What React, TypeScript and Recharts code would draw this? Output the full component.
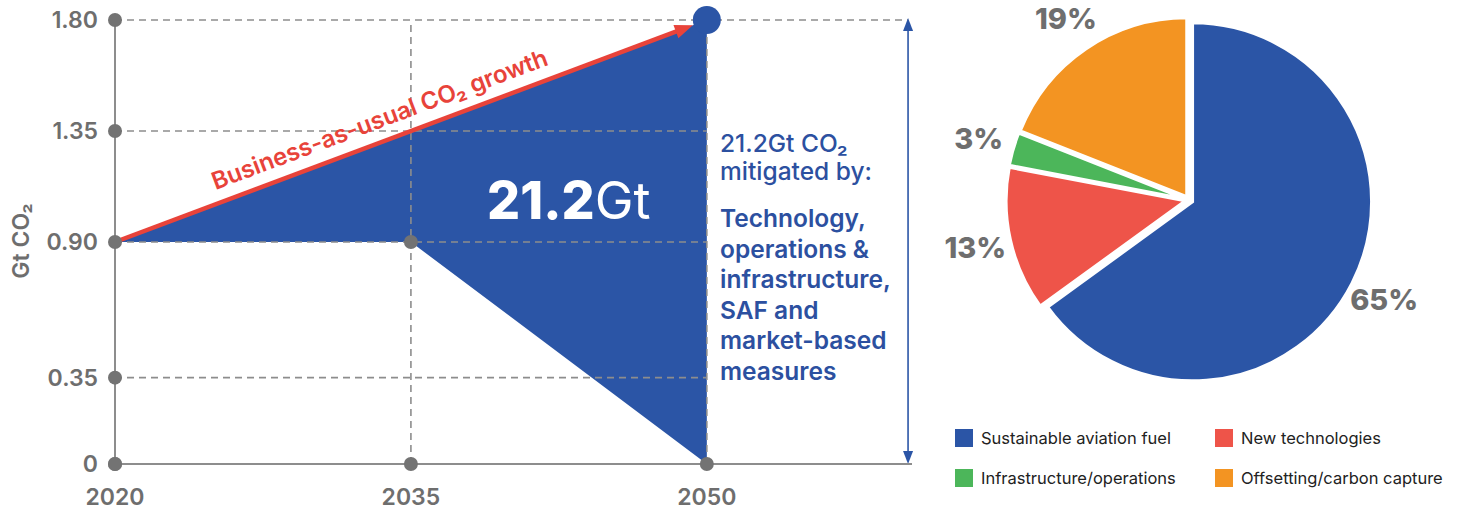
import {
  Area,
  Cell,
  ComposedChart,
  Legend,
  Pie,
  PieChart,
  ReferenceDot,
  ReferenceLine,
  Sector,
  XAxis,
  YAxis,
} from "recharts";

const years = [2020, 2035, 2050];
const businessAsUsual = [0.9, 1.35, 1.8];
const mitigatedPath = [0.9, 0.9, 0];
const yTicks = [0, 0.35, 0.9, 1.35, 1.8];
const gridValues = [0.35, 0.9, 1.35];
const axisEndYear = 2060.4;
const bracketYear = 2060.2;

const shareNames = [
  "Sustainable aviation fuel",
  "New technologies",
  "Infrastructure/operations",
  "Offsetting/carbon capture",
];
const shareValues = [65, 13, 3, 19];
const shareColors = ["#2b55a6", "#ee5449", "#4cb65a", "#f39422"];

const BLUE = "#2b55a6";
const TEXT_BLUE = "#2c50a0";
const GRID = "#8d8d8d";
const DOT = "#737373";
const LABEL = "#6e6e6e";
const RED = "#e8433a";
const FONT = "Inter, 'Noto Sans', sans-serif";

const areaData = years.map((year, i) => ({
  year,
  range: [mitigatedPath[i], businessAsUsual[i]],
}));

const shareData = shareNames.map((name, i) => ({ name, value: shareValues[i] }));

function YTick({ x, y, payload }: any) {
  const v = payload.value as number;
  return (
    <g>
      <circle cx={x} cy={y} r={7} fill={DOT} />
      <text
        x={x - 17}
        y={y}
        dy="0.36em"
        textAnchor="end"
        fontSize={23}
        fontWeight={600}
        fill={LABEL}
        fontFamily={FONT}
      >
        {v === 0 ? "0" : v.toFixed(2)}
      </text>
    </g>
  );
}

function XTick({ x, y, payload }: any) {
  return (
    <g>
      <circle cx={x} cy={y} r={7} fill={DOT} />
      <text
        x={x}
        y={y + 41}
        textAnchor="middle"
        fontSize={23}
        fontWeight={600}
        fill={LABEL}
        fontFamily={FONT}
      >
        {payload.value}
      </text>
    </g>
  );
}

// red "business as usual" arrow with its label along the line
function BauArrow({ x1, y1, x2, y2 }: any) {
  const dx = x2 - x1;
  const dy = y2 - y1;
  const len = Math.hypot(dx, dy);
  const ux = dx / len;
  const uy = dy / len;
  const tipX = x2 - ux * 15;
  const tipY = y2 - uy * 15;
  const bx = tipX - ux * 18;
  const by = tipY - uy * 18;
  const nx = uy;
  const ny = -ux;
  const angle = (Math.atan2(dy, dx) * 180) / Math.PI;
  const tx = x1 + dx * 0.46 + nx * 22;
  const ty = y1 + dy * 0.46 + ny * 22;
  return (
    <g>
      <line x1={x1} y1={y1} x2={bx + ux * 2} y2={by + uy * 2} stroke={RED} strokeWidth={4.5} />
      <polygon
        points={`${tipX},${tipY} ${bx + nx * 7},${by + ny * 7} ${bx - nx * 7},${by - ny * 7}`}
        fill={RED}
      />
      <text
        x={tx}
        y={ty}
        transform={`rotate(${angle} ${tx} ${ty})`}
        textAnchor="middle"
        dominantBaseline="central"
        fontSize={24}
        fontWeight={600}
        fill={RED}
        fontFamily={FONT}
      >
        Business-as-usual CO₂ growth
      </text>
    </g>
  );
}

function BracketArrow({ x1, y1, x2, y2 }: any) {
  const top = Math.min(y1, y2);
  const bottom = Math.max(y1, y2);
  return (
    <g>
      <line x1={x1} y1={top + 8} x2={x2} y2={bottom - 8} stroke={BLUE} strokeWidth={1.6} />
      <polygon points={`${x1},${top - 2} ${x1 - 5},${top + 11} ${x1 + 5},${top + 11}`} fill={BLUE} />
      <polygon
        points={`${x1},${bottom} ${x1 - 5},${bottom - 13} ${x1 + 5},${bottom - 13}`}
        fill={BLUE}
      />
    </g>
  );
}

function AreaLabel({ cx, cy }: any) {
  return (
    <text
      x={cx}
      y={cy}
      dy="0.36em"
      textAnchor="middle"
      fontSize={52}
      fill="#ffffff"
      fontFamily={FONT}
    >
      <tspan fontWeight={800}>21.2</tspan>
      <tspan fontWeight={400}>Gt</tspan>
    </text>
  );
}

function ExplodedSector(props: any) {
  const rad = (-props.midAngle * Math.PI) / 180;
  return (
    <Sector
      {...props}
      cx={props.cx + 4 * Math.cos(rad)}
      cy={props.cy + 4 * Math.sin(rad)}
    />
  );
}

function ShareLabel({ cx, cy, midAngle, outerRadius, value }: any) {
  const r = outerRadius + 40;
  const rad = (-midAngle * Math.PI) / 180;
  return (
    <text
      x={cx + r * Math.cos(rad)}
      y={cy + r * Math.sin(rad)}
      dy="0.36em"
      textAnchor="middle"
      fontSize={29}
      fontWeight={800}
      fill={LABEL}
      fontFamily={FONT}
    >
      {value}%
    </text>
  );
}

function ShareLegend({ payload }: any) {
  const items = [...(payload ?? [])].sort(
    (a: any, b: any) => shareNames.indexOf(a.value) - shareNames.indexOf(b.value),
  );
  return (
    <div
      style={{
        display: "grid",
        gridTemplateColumns: "260px 250px",
        rowGap: 20,
        fontFamily: FONT,
      }}
    >
      {items.map((item: any) => (
        <div
          key={item.value}
          style={{
            display: "flex",
            alignItems: "center",
            gap: 8,
            height: 20,
            fontSize: 16.5,
            color: "#222",
            whiteSpace: "nowrap",
          }}
        >
          <span style={{ width: 18, height: 18, background: item.color, display: "inline-block" }} />
          {item.value}
        </div>
      ))}
    </div>
  );
}

const dashed = { stroke: GRID, strokeWidth: 1.6, strokeDasharray: "7 5" };

export default function App() {
  return (
    <div style={{ position: "absolute", left: 0, top: 0, width: 1468, height: 513, background: "#fff", fontFamily: FONT }}>
      <div style={{ position: "absolute", left: 0, top: 0 }}>
        <ComposedChart width={940} height={513} data={areaData} margin={{ top: 20, right: 28, bottom: 0, left: 0 }}>
          <XAxis
            dataKey="year"
            type="number"
            domain={[2020, axisEndYear]}
            ticks={years}
            height={49}
            tickSize={0}
            tickMargin={0}
            tickLine={false}
            axisLine={{ stroke: GRID, strokeWidth: 2 }}
            tick={<XTick />}
            interval={0}
          />
          <YAxis
            type="number"
            domain={[0, 1.8]}
            ticks={yTicks}
            width={115}
            tickSize={0}
            tickMargin={0}
            tickLine={false}
            axisLine={{ stroke: GRID, strokeWidth: 2 }}
            tick={<YTick />}
            interval={0}
          />
          <Area
            dataKey="range"
            type="linear"
            fill={BLUE}
            fillOpacity={1}
            stroke="none"
            isAnimationActive={false}
          />
          {gridValues.map((v) => (
            <ReferenceLine
              key={v}
              segment={[
                { x: 2020, y: v },
                { x: 2050, y: v },
              ]}
              {...dashed}
            />
          ))}
          <ReferenceLine
            segment={[
              { x: 2020, y: 1.8 },
              { x: bracketYear, y: 1.8 },
            ]}
            {...dashed}
          />
          <ReferenceLine
            segment={[
              { x: 2035, y: 0 },
              { x: 2035, y: 1.8 },
            ]}
            {...dashed}
          />
          <ReferenceLine
            segment={[
              { x: 2050, y: 0 },
              { x: 2050, y: 1.8 },
            ]}
            {...dashed}
          />
          <ReferenceLine
            segment={[
              { x: bracketYear, y: 0 },
              { x: bracketYear, y: 1.8 },
            ]}
            shape={BracketArrow}
          />
          <ReferenceLine
            segment={[
              { x: years[0], y: businessAsUsual[0] },
              { x: years[2], y: businessAsUsual[2] },
            ]}
            shape={BauArrow}
          />
          <ReferenceDot x={2035} y={0.9} r={7} fill={DOT} stroke="none" />
          <ReferenceDot x={2050} y={1.8} r={14} fill={BLUE} stroke="none" />
          <ReferenceDot x={2043} y={1.07} r={0} shape={AreaLabel} />
        </ComposedChart>
      </div>

      <div
        style={{
          position: "absolute",
          left: 21,
          top: 241,
          transform: "translate(-50%, -50%) rotate(-90deg)",
          whiteSpace: "nowrap",
          fontSize: 23,
          fontWeight: 600,
          color: LABEL,
        }}
      >
        Gt CO₂
      </div>

      <div
        style={{
          position: "absolute",
          left: 720,
          top: 129,
          fontSize: 24.5,
          lineHeight: "28px",
          fontWeight: 500,
          color: TEXT_BLUE,
        }}
      >
        21.2Gt CO₂
        <br />
        mitigated by:
      </div>
      <div
        style={{
          position: "absolute",
          left: 720,
          top: 203,
          fontSize: 24.5,
          lineHeight: "30.5px",
          fontWeight: 600,
          color: TEXT_BLUE,
        }}
      >
        Technology,
        <br />
        operations &amp;
        <br />
        infrastructure,
        <br />
        SAF and
        <br />
        market-based
        <br />
        measures
      </div>

      <div style={{ position: "absolute", left: 940, top: 0 }}>
        <PieChart width={528} height={513} margin={{ top: 0, right: 0, bottom: 0, left: 0 }}>
          <Pie
            data={shareData}
            dataKey="value"
            nameKey="name"
            cx={249}
            cy={200}
            outerRadius={179}
            startAngle={90}
            endAngle={-270}
            stroke="#ffffff"
            strokeWidth={3}
            label={ShareLabel}
            labelLine={false}
            shape={ExplodedSector}
            isAnimationActive={false}
          >
            {shareData.map((d, i) => (
              <Cell key={d.name} fill={shareColors[i]} />
            ))}
          </Pie>
          <Legend
            content={<ShareLegend />}
            wrapperStyle={{ position: "absolute", left: 15, top: 428, width: 520, bottom: "auto" }}
          />
        </PieChart>
      </div>
    </div>
  );
}
